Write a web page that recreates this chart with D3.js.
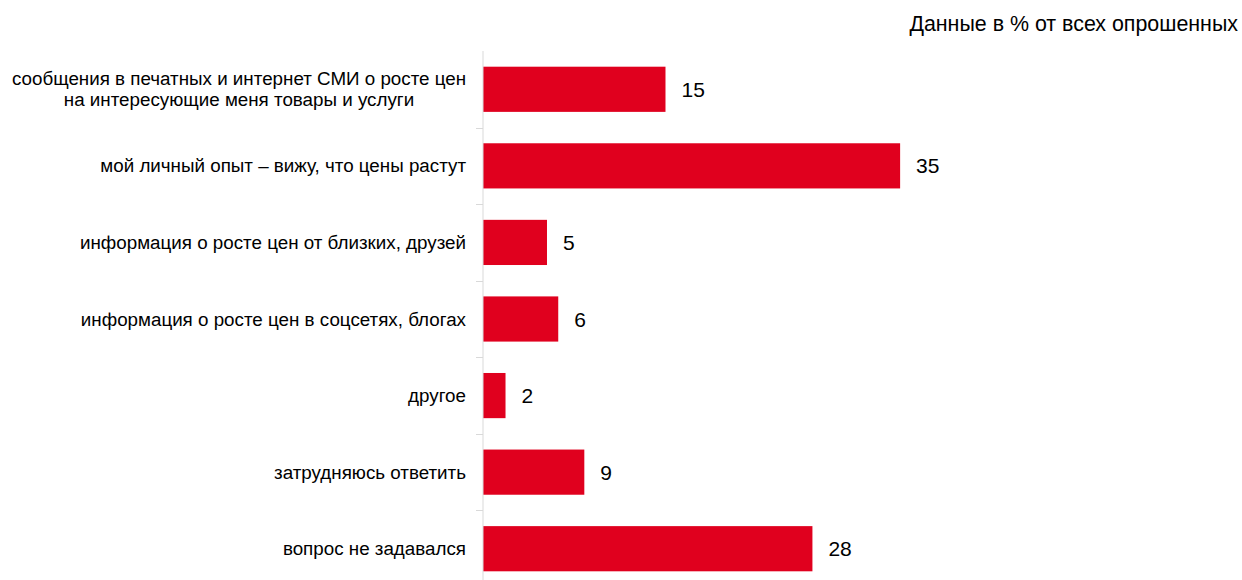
<!DOCTYPE html>
<html><head><meta charset="utf-8">
<script src="https://cdn.jsdelivr.net/npm/d3@7"></script>
<style>body{margin:0;background:#fff}svg{display:block}text{font-family:"Liberation Sans",Arial,sans-serif;fill:#000}</style>
</head><body><svg id="c" width="1242" height="580"></svg>
<script>
const categories = [
  ["сообщения в печатных и интернет СМИ о росте цен","на интересующие меня товары и услуги"],
  ["мой личный опыт – вижу, что цены растут"],
  ["информация о росте цен от близких, друзей"],
  ["информация о росте цен в соцсетях, блогах"],
  ["другое"],
  ["затрудняюсь ответить"],
  ["вопрос не задавался"]
];
const values = [15.4, 35.2, 5.4, 6.35, 1.9, 8.55, 27.8];
const valueLabels = ["15","35","5","6","2","9","28"];
const note = "Данные в % от всех опрошенных";

const svg = d3.select("#c");
const x0 = 483;
const x = d3.scaleLinear().domain([0, 1]).range([x0, x0 + 11.85]);
const y = d3.scaleBand().domain(d3.range(categories.length)).range([51, 587]).paddingInner(0.41).paddingOuter(0.205);

// bars
svg.selectAll("rect.bar").data(values).join("rect")
  .attr("x", x(0)).attr("y", (d,i)=>y(i))
  .attr("width", d=>x(d)-x(0)).attr("height", y.bandwidth())
  .attr("fill", "#E0001E");

// axis line and ticks
const step = y.step();
const y0 = 51;
svg.append("line").attr("x1",x0).attr("x2",x0).attr("y1",y0).attr("y2",587)
  .attr("stroke","#D9D9D9").attr("stroke-width",1);
for (let i=1;i<categories.length;i++){
  const ty = Math.round(y0 + i*step)+0.5;
  svg.append("line").attr("x1",x0-7).attr("x2",x0).attr("y1",ty).attr("y2",ty)
    .attr("stroke","#D9D9D9").attr("stroke-width",1);
}

// category labels
categories.forEach((lines,i)=>{
  const cy = y(i)+y.bandwidth()/2;
  const t = svg.append("text").attr("text-anchor","middle").attr("font-size",18.8);
  const cx = 239;
  const lh = 21;
  lines.forEach((l,j)=>{
    t.append("tspan").attr("x", lines.length>1 ? cx : x0-17)
      .attr("y", cy + (j-(lines.length-1)/2)*lh).attr("dy","0.35em").text(l);
  });
  if (lines.length===1) t.attr("text-anchor","end");
});

// value labels
svg.selectAll("text.val").data(values).join("text")
  .attr("x", d=>x(d)+16).attr("y",(d,i)=>y(i)+y.bandwidth()/2).attr("dy","0.36em")
  .attr("font-size",21).text((d,i)=>valueLabels[i]);

svg.append("text").attr("x",1238).attr("y",24).attr("dy","0.35em").attr("text-anchor","end")
  .attr("font-size",21.4).text(note);
</script></body></html>
